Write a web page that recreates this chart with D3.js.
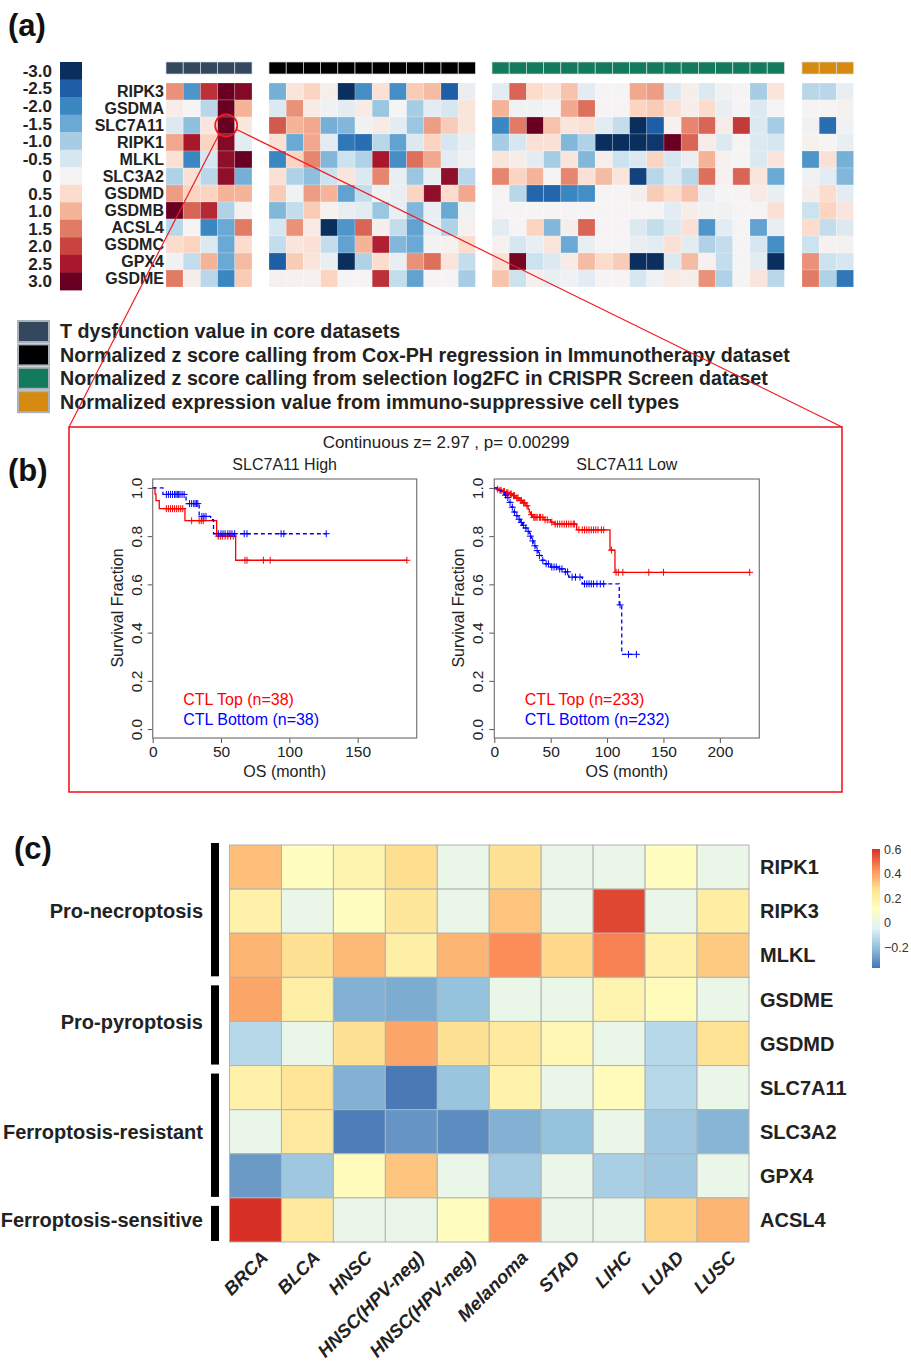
<!DOCTYPE html>
<html>
<head>
<meta charset="utf-8">
<script src="https://cdn.jsdelivr.net/npm/d3@7"></script>
<style>
body { margin: 0; background: #fff; }
text { font-family: "Liberation Sans", Arial, sans-serif; }
</style>
</head>
<body>
<div id="fig"></div>
<script>
// ---------- panel (a) data ----------
var genesA = ["RIPK3","GSDMA","SLC7A11","RIPK1","MLKL","SLC3A2","GSDMD","GSDMB","ACSL4","GSDMC","GPX4","GSDME"];
var legendValsA = [-3.0,-2.5,-2.0,-1.5,-1.0,-0.5,0,0.5,1.0,1.5,2.0,2.5,3.0];
var legendLabelsA = ["-3.0","-2.5","-2.0","-1.5","-1.0","-0.5","0","0.5","1.0","1.5","2.0","2.5","3.0"];
var legendColorsA = ["#0a2f5f","#1d5ea6","#3b87c2","#6aa9d3","#a6cde4","#d6e7f1","#f5f3f3","#fcdccd","#f5b398","#e27b64","#c9433f","#a9172d","#690022"];

// T dysfunction value in core datasets (5 columns)
var tDysfunction = [
  [1.3,-1.8,2.2,3.0,2.8],
  [0.15,0,-0.8,3.0,1.0],
  [-0.4,-1.2,0.3,3.0,0.25],
  [1.1,2.5,0.6,2.8,-0.3],
  [0.4,-2.0,-0.5,2.7,3.0],
  [-0.9,0.4,-0.8,2.7,-1.4],
  [1.2,0.6,0.6,1.0,1.0],
  [3.0,1.7,2.3,-0.9,0.05],
  [-0.8,0,-2.0,-1.5,1.5],
  [0.5,0.6,-0.4,-1.5,0.5],
  [-0.1,-0.7,1.0,-1.5,0.9],
  [1.5,0.1,-0.8,-2.0,0.7]
];
// Cox-PH z score in immunotherapy datasets (12 columns)
var coxPH = [
  [-1.4,0.3,0.6,0.1,-3.0,-1.9,0.4,-1.9,0.7,0.9,-2.5,-0.2],
  [-0.4,1.3,0.2,-0.1,-0.3,0.2,-1.1,0,-1.0,-0.3,-0.5,0.3],
  [1.8,1.0,1.1,-1.4,-1.3,-0.1,0.2,-0.3,-1.1,1.2,0.7,0.3],
  [0.4,-1.5,1.1,-0.3,-2.2,-2.3,-0.8,-1.6,-0.4,0.6,-0.5,-0.2],
  [-2.0,0.6,1.4,-1.3,-0.6,-0.9,2.5,-1.9,1.6,1.1,-0.3,-0.1],
  [0.4,-0.9,-1.2,-0.6,0.3,-0.4,1.4,-0.2,-1.1,-0.2,2.7,-0.8],
  [0.7,-0.1,1.2,1.0,-1.6,-0.7,-0.1,-0.2,0.6,2.7,0.5,1.1],
  [-1.3,-0.7,0.7,0.05,-0.2,-0.3,-1.1,-0.2,-1.3,-0.2,-1.5,-0.1],
  [-0.5,1.3,0.2,-3.0,-1.8,1.7,0.1,-0.7,-1.6,-0.2,-0.9,0.05],
  [-0.7,0.3,0.4,-0.7,-1.6,1.0,2.4,-1.3,-1.5,-0.05,0.05,0.5],
  [-2.5,0.7,0.3,-0.2,-3.0,-0.9,0.5,-0.2,1.3,1.6,0.3,-0.7],
  [0.05,0.05,0.05,0.6,0,0,2.2,-0.7,-1.6,0,0,-1.0]
];
// selection log2FC z score in CRISPR screens (17 columns)
var crispr = [
  [-0.3,1.7,0.5,0.3,0.8,-0.3,0,0,1.1,1.2,-0.4,0.1,-0.4,-0.1,0,-1.0,0.3],
  [1.0,-0.1,-0.1,0,1.1,1.6,0,0,0.6,0.7,0.4,0.1,0.5,-0.2,0,-0.4,0],
  [-2.0,1.5,3.0,0.8,0.3,0.4,-0.3,-0.7,-3.0,-2.5,0.05,1.4,1.7,0.15,2.1,-0.4,-1.0],
  [-1.0,-0.5,0.4,0.4,-1.3,-0.9,-3.0,-3.0,-3.0,-2.9,3.0,1.7,0.15,-0.4,0,-0.4,-0.5],
  [0.3,0.15,-0.3,-1.0,0.3,-1.3,0.1,-0.6,-0.4,0.6,-0.5,-0.15,1.0,0.05,0,-0.4,0.3],
  [1.4,0.6,1.0,0,1.4,0.4,0.9,0.3,-2.8,-0.8,-0.4,-0.8,1.6,0.05,1.7,0.3,-1.5],
  [0,-0.8,-2.4,-2.4,-2.0,-1.9,0,0,0.1,0.7,0.5,0.8,-0.2,0,0,0.2,-0.2],
  [0,0,0,0,0,0,0,0,0,0,-0.3,0.15,-0.1,-0.1,0,0,0.4],
  [-0.3,0,0.6,-1.3,0.1,1.7,0,0,-0.4,-0.7,-0.4,0.4,-1.8,-0.3,0,-1.6,-0.2],
  [0.05,-0.5,-0.2,0.3,-1.5,-0.2,0,0,-0.2,-0.3,0.4,-0.3,-0.9,-0.7,0,-0.5,-1.9],
  [0.4,2.9,-0.6,-0.4,0.2,0.9,0.5,0.7,-3.0,-3.0,-0.4,0.9,0.05,-0.7,0,-0.3,-3.0],
  [0.8,-0.6,0.1,-0.2,-0.1,-0.3,0,0,-0.5,-0.1,0.2,0.1,1.3,-0.9,0,0.3,-0.8]
];
// expression in immuno-suppressive cell types (3 columns)
var immuneSupp = [
  [-0.8,-0.8,-0.2],
  [0,0,0.05],
  [-0.1,-2.3,-0.1],
  [0.05,0,-0.2],
  [-1.8,0.4,-1.4],
  [-0.1,-0.3,-1.3],
  [0.1,0.5,-0.3],
  [-0.6,0.6,0.3],
  [0.5,-0.7,-0.4],
  [-0.6,0.05,-0.05],
  [1.3,-0.6,-0.5],
  [1.5,-0.9,-2.2]
];
var blockNames = [
  "T dysfunction value in core datasets",
  "Normalized z score calling from Cox-PH regression in Immunotherapy dataset",
  "Normalized z score calling from selection log2FC in CRISPR Screen dataset",
  "Normalized expression value from immuno-suppressive cell types"
];
var blockColors = ["#34475d","#000000","#137a5e","#d78a10"];

// ---------- panel (b) data : Kaplan-Meier steps [month, survival] ----------
var highTopSteps = [[0,1],[1.7,0.974],[2.4,0.947],[4.8,0.914],[23.6,0.864],[46.8,0.80],[60.7,0.70]];
var highTopEnd = 186;
var highTopCensor = [10,11.5,13,14.5,16,17.5,19,20.5,22,28.5,34,35.5,37,48,49.5,51,53,55,57,59,67.5,69,81,86,186];
var highBotSteps = [[0,1],[7.5,0.973],[24.4,0.935],[34,0.882],[42.4,0.868],[44.5,0.81]];
var highBotEnd = 127;
var highBotCensor = [10,11.5,13,14.5,16,17,18,19,20,21.5,23,27,28.5,30,31,32,33,36,37.5,39,48,50,51.5,53,55,56.5,58,60,67,69,94,96,127];

var lowTopSteps = [[0,1],[2,0.995],[4,0.99],[7,0.985],[10,0.98],[13,0.975],[16,0.968],[19,0.958],[22,0.948],[25,0.938],[28,0.926],[30,0.912],[31,0.9],[32,0.889],[34,0.878],[44,0.868],[50,0.858],[53,0.85],[73,0.826],[102.6,0.742],[107,0.65]];
var lowTopEnd = 226.5;
var lowTopCensor = [3,5,6,8,9,11,12,14,15,17,18,20,21,23,24,26,27,29,33,35,36,37,38,40,41,43,45,47,51,54,56,58,60,62,64,66,68,70,71,75,78,80,82,84,86,88,90,92,95,97,104,108,110,114,137,150,226.5];
var lowBotSteps = [[0,1],[3,0.99],[6,0.98],[9,0.97],[11,0.96],[13,0.94],[15,0.92],[17,0.9],[19,0.885],[21,0.87],[23,0.857],[25,0.845],[27,0.834],[29,0.82],[31,0.8],[33,0.78],[35,0.76],[37,0.74],[39,0.72],[42,0.70],[45,0.685],[50,0.672],[57,0.664],[62,0.652],[66,0.63],[78,0.602],[110.8,0.515],[113,0.31]];
var lowBotEnd = 127;
var lowBotCensor = [10,12,14,16,18,20,22,24,26,28,30,32,34,36,38,40,43,46,48,51,53,55,58,60,63,65,69,72,76,80,82,84,86,88,91,94,97,111.5,119,126];

var survTicks = [0,0.2,0.4,0.6,0.8,1.0];

// ---------- panel (c) data ----------
var cancers = ["BRCA","BLCA","HNSC","HNSC(HPV-neg)","HNSC(HPV-neg)","Melanoma","STAD","LIHC","LUAD","LUSC"];
var genesC = ["RIPK1","RIPK3","MLKL","GSDME","GSDMD","SLC7A11","SLC3A2","GPX4","ACSL4"];
var corrC = [
  [0.34,0.12,0.17,0.28,0,0.27,0,0,0.12,0],
  [0.19,0,0.12,0.24,0,0.33,0,0.56,0,0.21],
  [0.36,0.27,0.35,0.2,0.36,0.44,0.29,0.46,0.19,0.32],
  [0.39,0.2,-0.24,-0.25,-0.2,0,0,0.17,0.13,0],
  [-0.13,0,0.27,0.39,0.27,0.23,0.15,0,-0.13,0.26],
  [0.19,0.25,-0.24,-0.36,-0.19,0.18,0,0.13,-0.13,0],
  [0,0.23,-0.35,-0.3,-0.32,-0.24,-0.2,0,-0.18,-0.23],
  [-0.29,-0.18,0.13,0.33,0,-0.17,0,-0.16,-0.18,0],
  [0.6,0.23,0,0,0.12,0.43,0,0,0.3,0.36]
];
var groupNames = ["Pro-necroptosis","Pro-pyroptosis","Ferroptosis-resistant","Ferroptosis-sensitive"];
var groupFirst = ["RIPK1","GSDME","SLC7A11","ACSL4"];
var groupLast = ["MLKL","GSDMD","GPX4","ACSL4"];
var rangeC = [-0.37, 0.6];
var paletteC = ["#4575B4","#91BFDB","#E0F3F8","#FFFFBF","#FEE090","#FC8D59","#D73027"];
var barTicksC = [0.6,0.4,0.2,0,-0.2];
var barLabelsC = ["0.6","0.4","0.2","0","\u22120.2"];

// ================= drawing =================
var ink = "#222";
var svg = d3.select("#fig").append("svg").attr("width", 911).attr("height", 1367);
svg.append("rect").attr("width", 911).attr("height", 1367).attr("fill", "#fff");

// panel letters
[["(a)", 8, 36], ["(b)", 8, 481], ["(c)", 14, 859]].forEach(function(p) {
  svg.append("text").attr("x", p[1]).attr("y", p[2])
    .attr("font-size", 31).attr("font-weight", "bold").attr("fill", "#111").text(p[0]);
});

// ---------- (a) ----------
var colorA = d3.scaleLinear().domain(legendValsA).range(legendColorsA).clamp(true);

// colour key on the left
var legY = d3.scaleBand().domain(legendLabelsA).range([62, 290]);
var gKey = svg.append("g");
gKey.selectAll("rect").data(legendValsA).enter().append("rect")
  .attr("x", 60).attr("width", 22)
  .attr("y", function(d, i) { return legY(legendLabelsA[i]); })
  .attr("height", legY.bandwidth() + 0.4)
  .attr("fill", colorA);
gKey.selectAll("text").data(legendLabelsA).enter().append("text")
  .attr("x", 52).attr("y", function(d) { return legY(d) + legY.bandwidth() / 2; })
  .attr("dy", "0.36em").attr("text-anchor", "end")
  .attr("font-size", 17).attr("font-weight", "bold").attr("fill", ink)
  .text(function(d) { return d; });

// heatmap blocks
var rowA = d3.scaleBand().domain(genesA).range([83, 287]);
var cellW = 17.2;
var blocks = [
  { data: tDysfunction, x0: 166, color: blockColors[0] },
  { data: coxPH, x0: 269, color: blockColors[1] },
  { data: crispr, x0: 492, color: blockColors[2] },
  { data: immuneSupp, x0: 802, color: blockColors[3] }
];
var xFirst;
blocks.forEach(function(b, bi) {
  var n = b.data[0].length;
  var xb = d3.scaleBand().domain(d3.range(n)).range([b.x0, b.x0 + n * cellW]);
  if (bi === 0) xFirst = xb;
  var g = svg.append("g");
  g.selectAll("rect.ann").data(d3.range(n)).enter().append("rect")
    .attr("class", "ann")
    .attr("x", function(d) { return xb(d); }).attr("y", 62)
    .attr("width", xb.bandwidth()).attr("height", 12)
    .attr("fill", b.color).attr("stroke", "#d5dbe0").attr("stroke-width", 0.7);
  b.data.forEach(function(row, r) {
    g.selectAll(null).data(row).enter().append("rect")
      .attr("x", function(d, i) { return xb(i); })
      .attr("y", rowA(genesA[r]))
      .attr("width", xb.bandwidth()).attr("height", rowA.bandwidth())
      .attr("fill", colorA)
      .attr("stroke", "#fff").attr("stroke-opacity", 0.35).attr("stroke-width", 0.6);
  });
});

svg.append("g").selectAll("text").data(genesA).enter().append("text")
  .attr("x", 164).attr("y", function(d) { return rowA(d) + rowA.bandwidth() / 2; })
  .attr("dy", "0.36em").attr("text-anchor", "end")
  .attr("font-size", 16).attr("font-weight", "bold").attr("fill", ink)
  .text(function(d) { return d; });

// block legend
var gBL = svg.append("g");
blockNames.forEach(function(name, i) {
  gBL.append("rect").attr("x", 18).attr("y", 321 + i * 23.4)
    .attr("width", 31).attr("height", 21)
    .attr("fill", blockColors[i]).attr("stroke", "#a9b1ba").attr("stroke-width", 2);
  gBL.append("text").attr("x", 60).attr("y", 338 + i * 23.6)
    .attr("font-size", 19.7).attr("font-weight", "bold").attr("fill", ink).text(name);
});

// zoom marker: circle on SLC7A11 / 4th T-dysfunction column, lines to panel (b)
var cx = xFirst(3) + xFirst.bandwidth() / 2;
var cy = rowA("SLC7A11") + rowA.bandwidth() / 2;
var boxB = { x0: 69, y0: 427, x1: 842, y1: 792 };
var red = "#ee1c24";
svg.append("circle").attr("cx", cx).attr("cy", cy).attr("r", 11)
  .attr("fill", "none").attr("stroke", red).attr("stroke-width", 1.8);
svg.append("line").attr("x1", cx - 7).attr("y1", cy + 8.5).attr("x2", boxB.x0).attr("y2", boxB.y0)
  .attr("stroke", red).attr("stroke-width", 1.2);
svg.append("line").attr("x1", cx + 10.5).attr("y1", cy + 4).attr("x2", boxB.x1).attr("y2", boxB.y0)
  .attr("stroke", red).attr("stroke-width", 1.2);
svg.append("rect").attr("x", boxB.x0).attr("y", boxB.y0)
  .attr("width", boxB.x1 - boxB.x0).attr("height", boxB.y1 - boxB.y0)
  .attr("fill", "none").attr("stroke", red).attr("stroke-width", 1.6);

// ---------- (b) ----------
svg.append("text").attr("x", 446).attr("y", 448).attr("text-anchor", "middle")
  .attr("font-size", 17).attr("fill", ink).text("Continuous z= 2.97 , p= 0.00299");

function survAt(steps, t) {
  var s = steps[0][1];
  steps.forEach(function(p) { if (p[0] <= t) s = p[1]; });
  return s;
}

function drawKM(opt) {
  var g = svg.append("g");
  var x = d3.scaleLinear().domain([0, opt.xMax]).range([opt.left, opt.right]);
  var y = d3.scaleLinear().domain([-0.037, 1.037]).range([738, 479]);

  var ax = g.append("g").attr("transform", "translate(0,738)")
    .call(d3.axisBottom(x).tickValues(opt.xTicks).tickSize(5).tickPadding(3));
  ax.attr("font-size", 15.5).attr("font-family", "Liberation Sans, Arial, sans-serif");
  ax.select(".domain").remove();
  ax.selectAll("line").attr("stroke", "#555");
  ax.selectAll("text").attr("fill", ink);

  var ay = g.append("g").attr("transform", "translate(" + opt.left + ",0)")
    .call(d3.axisLeft(y).tickValues(survTicks).tickFormat(d3.format(".1f")).tickSize(5));
  ay.attr("font-size", 15.5).attr("font-family", "Liberation Sans, Arial, sans-serif");
  ay.select(".domain").remove();
  ay.selectAll("line").attr("stroke", "#555");
  ay.selectAll("text").attr("x", 0).attr("y", -11).attr("dy", null)
    .attr("text-anchor", "middle").attr("transform", "rotate(-90)").attr("fill", ink);

  g.append("rect").attr("x", opt.left).attr("y", 479)
    .attr("width", opt.right - opt.left).attr("height", 259)
    .attr("fill", "none").attr("stroke", "#777").attr("stroke-width", 1.2);

  var line = d3.line().curve(d3.curveStepAfter)
    .x(function(d) { return x(d[0]); }).y(function(d) { return y(d[1]); });

  opt.series.forEach(function(s) {
    var pts = s.steps.concat([[s.end, s.steps[s.steps.length - 1][1]]]);
    g.append("path").attr("d", line(pts)).attr("fill", "none")
      .attr("stroke", s.color).attr("stroke-width", 1.3)
      .attr("stroke-dasharray", s.dash || null);
    g.selectAll(null).data(s.censor).enter().append("path")
      .attr("transform", function(t) { return "translate(" + x(t) + "," + y(survAt(s.steps, t)) + ")"; })
      .attr("d", "M-3.5,0H3.5M0,-3.5V3.5")
      .attr("stroke", s.color).attr("stroke-width", 1);
  });

  var mid = (opt.left + opt.right) / 2;
  g.append("text").attr("x", mid).attr("y", 470).attr("text-anchor", "middle")
    .attr("font-size", 16).attr("fill", ink).text(opt.title);
  g.append("text").attr("x", mid).attr("y", 777).attr("text-anchor", "middle")
    .attr("font-size", 16).attr("fill", ink).text("OS (month)");
  g.append("text").attr("transform", "translate(" + (opt.left - 30) + ",608) rotate(-90)")
    .attr("text-anchor", "middle").attr("font-size", 16).attr("fill", ink).text("Survival Fraction");
  opt.series.forEach(function(s, i) {
    g.append("text").attr("x", opt.left + 30.5).attr("y", 705 + i * 20)
      .attr("font-size", 16).attr("fill", s.color).text(s.label);
  });
}

drawKM({
  left: 152.7, right: 416.7, xMax: 193.2, xTicks: [0, 50, 100, 150], title: "SLC7A11 High",
  series: [
    { steps: highTopSteps, end: highTopEnd, censor: highTopCensor, color: "#ff0000", label: "CTL Top (n=38)" },
    { steps: highBotSteps, end: highBotEnd, censor: highBotCensor, color: "#0000ff", dash: "4,3", label: "CTL Bottom (n=38)" }
  ]
});
drawKM({
  left: 494.3, right: 759.3, xMax: 235, xTicks: [0, 50, 100, 150, 200], title: "SLC7A11 Low",
  series: [
    { steps: lowTopSteps, end: lowTopEnd, censor: lowTopCensor, color: "#ff0000", label: "CTL Top (n=233)" },
    { steps: lowBotSteps, end: lowBotEnd, censor: lowBotCensor, color: "#0000ff", dash: "4,3", label: "CTL Bottom (n=232)" }
  ]
});

// ---------- (c) ----------
var colorC = d3.scaleLinear()
  .domain(d3.range(paletteC.length).map(function(i) { return rangeC[0] + i * (rangeC[1] - rangeC[0]) / (paletteC.length - 1); }))
  .range(paletteC).clamp(true);
var xC = d3.scaleBand().domain(d3.range(cancers.length)).range([229.5, 749]);
var yC = d3.scaleBand().domain(genesC).range([845, 1242]);

var gC = svg.append("g");
corrC.forEach(function(row, r) {
  gC.selectAll(null).data(row).enter().append("rect")
    .attr("x", function(d, i) { return xC(i); })
    .attr("y", yC(genesC[r]))
    .attr("width", xC.bandwidth()).attr("height", yC.bandwidth())
    .attr("fill", colorC).attr("stroke", "#b3b3b3").attr("stroke-width", 1);
});

gC.selectAll("text.row").data(genesC).enter().append("text")
  .attr("x", 760).attr("y", function(d) { return yC(d) + yC.bandwidth() / 2; })
  .attr("dy", "0.36em").attr("font-size", 20).attr("font-weight", "bold").attr("fill", ink)
  .text(function(d) { return d; });

gC.selectAll("text.col").data(cancers).enter().append("text")
  .attr("transform", function(d, i) {
    return "translate(" + (xC(i) + xC.bandwidth() / 2 + 4) + ",1249) rotate(-45)";
  })
  .attr("dy", "0.75em").attr("text-anchor", "end")
  .attr("font-size", 18.5).attr("font-weight", "bold").attr("font-style", "italic").attr("fill", ink)
  .text(function(d) { return d; });

groupNames.forEach(function(name, i) {
  var top = yC(groupFirst[i]) + (i === 0 ? -2 : 8);
  var bot = yC(groupLast[i]) + yC.bandwidth() - 1;
  gC.append("rect").attr("x", 211).attr("y", top).attr("width", 8).attr("height", bot - top).attr("fill", "#000");
  var mid = (yC(groupFirst[i]) + yC(groupLast[i]) + yC.bandwidth()) / 2;
  gC.append("text").attr("x", 203).attr("y", mid).attr("dy", "0.36em").attr("text-anchor", "end")
    .attr("font-size", 20).attr("font-weight", "bold").attr("fill", ink).text(name);
});

// colour bar
var barY = d3.scaleLinear().domain(rangeC).range([968, 849]);
var grad = svg.append("defs").append("linearGradient").attr("id", "gradC")
  .attr("x1", 0).attr("y1", 1).attr("x2", 0).attr("y2", 0);
colorC.domain().forEach(function(v, i) {
  grad.append("stop").attr("offset", i / (paletteC.length - 1)).attr("stop-color", paletteC[i]);
});
svg.append("rect").attr("x", 872).attr("y", barY(rangeC[1])).attr("width", 8)
  .attr("height", barY(rangeC[0]) - barY(rangeC[1])).attr("fill", "url(#gradC)");
svg.append("g").selectAll("text").data(barTicksC).enter().append("text")
  .attr("x", 884).attr("y", function(d) { return barY(d); }).attr("dy", "0.36em")
  .attr("font-size", 12.5).attr("fill", "#333")
  .text(function(d, i) { return barLabelsC[i]; });
</script>
</body>
</html>
